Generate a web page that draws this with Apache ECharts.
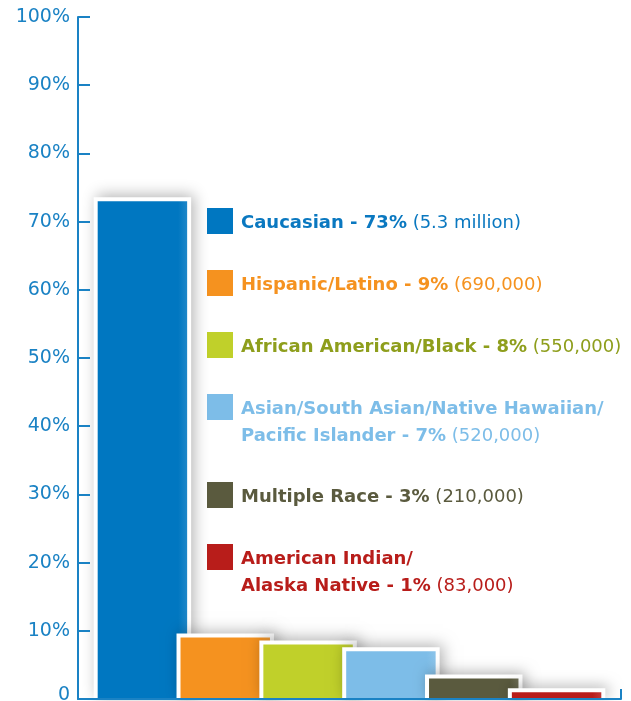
<!DOCTYPE html>
<html lang="en">
<head>
    <meta charset="UTF-8">
    <title>Race / ethnicity</title>
    <script type="text/javascript" src="https://cdn.jsdelivr.net/npm/echarts@6/dist/echarts.min.js"></script>
    <style>
        html, body { margin: 0; padding: 0; background: #fff; }
    </style>
</head>
<body>
<div id="main" style="width: 631px;height:701px"></div>
<script type="text/javascript">
    var categories = ['Caucasian', 'Hispanic/Latino', 'African American/Black',
        'Asian/South Asian/Native Hawaiian/Pacific Islander', 'Multiple Race', 'American Indian/Alaska Native'];
    var percents = [73, 9, 8, 7, 3, 1];
    var counts = ['5.3 million', '690,000', '550,000', '520,000', '210,000', '83,000'];
    // how the legend text breaks into lines
    var legendLines = [
        ['Caucasian'],
        ['Hispanic/Latino'],
        ['African American/Black'],
        ['Asian/South Asian/Native Hawaiian/', 'Pacific Islander'],
        ['Multiple Race'],
        ['American Indian/', 'Alaska Native']
    ];
    var barColors = ['#0077c1', '#f5921f', '#c0d02a', '#7dbde8', '#5a5a3e', '#b81d1a'];
    var textColors = ['#0a78c0', '#f5921f', '#8e9e1c', '#7dbde8', '#5a5a3e', '#b81d1a'];
    var axisColor = '#1a82c4';
    var font = 'DejaVu Sans';

    var chartDom = document.getElementById('main');
    var myChart = echarts.init(chartDom);

    var barData = [];
    for (var i = 0; i < percents.length; i++) {
        barData.push({ name: categories[i], value: [i, percents[i]] });
    }

    // legend built as text + squares
    var legendItems = [];
    var legendTop = 208;
    for (var j = 0; j < categories.length; j++) {
        var lines = legendLines[j];
        var txt = '';
        for (var k = 0; k < lines.length - 1; k++) {
            txt += '{n|' + lines[k] + '}\n';
        }
        txt += '{n|' + lines[lines.length - 1] + ' - }{p|' + percents[j] + '%}{c| (' + counts[j] + ')}';
        var rich = {
            n: { fontFamily: font, fontSize: 18, fontWeight: 'bold', fill: textColors[j], lineHeight: 27 },
            p: { fontFamily: font, fontSize: 18, fontWeight: 'bold', fill: textColors[j], lineHeight: 27 },
            c: { fontFamily: font, fontSize: 18, fontWeight: 'normal', fill: textColors[j], lineHeight: 27 }
        };
        legendItems.push({
            type: 'rect',
            left: 207, top: legendTop,
            shape: { width: 26, height: 26 },
            style: { fill: barColors[j] }
        });
        legendItems.push({
            type: 'text',
            left: 241, top: legendTop + 6,
            style: { text: txt, rich: rich, fill: textColors[j] }
        });
        legendTop += 62 + (lines.length - 1) * 26;
    }

    // bar with a white frame that stops at the baseline
    function renderBar(params, api) {
        var idx = params.dataIndex;
        var topPt = api.coord([api.value(0), api.value(1)]);
        var basePt = api.coord([api.value(0), 0]);
        var band = api.size([1, 0])[0];
        var w = band * 1.08;
        var b = 4;
        var h = basePt[1] - topPt[1];
        var c = barColors[idx];
        return {
            type: 'group',
            children: [
                {
                    type: 'rect',
                    shape: { x: topPt[0] - w / 2 - b, y: topPt[1] - b, width: w + 2 * b, height: h + b },
                    style: {
                        fill: '#fff',
                        shadowBlur: 14,
                        shadowOffsetX: 3,
                        shadowOffsetY: -2,
                        shadowColor: 'rgba(0,0,0,0.3)'
                    }
                },
                {
                    type: 'rect',
                    shape: { x: topPt[0] - w / 2, y: topPt[1], width: w, height: h },
                    style: {
                        fill: new echarts.graphic.LinearGradient(0, 0, 1, 0, [
                            { offset: 0, color: c },
                            { offset: 0.9, color: c },
                            { offset: 1, color: echarts.color.lift(c, 0.12) }
                        ])
                    }
                }
            ]
        };
    }

    var option = {
        animation: false,
        grid: [
            { left: 101, right: 33, top: 17, bottom: 2, outerBoundsMode: 'none' },
            { left: 78, right: 10, top: 17, bottom: 2, outerBoundsMode: 'none' }
        ],
        xAxis: [
            {
                type: 'category', gridIndex: 0, data: categories,
                axisLine: { show: false }, axisTick: { show: false }, axisLabel: { show: false }
            },
            {
                type: 'value', gridIndex: 1, min: 0, max: 1, interval: 1, z: 10,
                axisLine: { show: true, lineStyle: { color: axisColor, width: 2 } },
                axisTick: { show: true, inside: true, length: 10, lineStyle: { color: axisColor, width: 2 } },
                axisLabel: { show: false }, splitLine: { show: false }
            }
        ],
        yAxis: [
            { type: 'value', gridIndex: 0, min: 0, max: 100, interval: 10, show: false },
            {
                type: 'value', gridIndex: 1, min: 0, max: 100, interval: 10, z: 10,
                axisLine: { show: true, lineStyle: { color: axisColor, width: 2 } },
                axisTick: { show: true, inside: true, length: 12, lineStyle: { color: axisColor, width: 2 } },
                splitLine: { show: false },
                axisLabel: {
                    margin: 8,
                    color: axisColor,
                    fontFamily: font,
                    fontSize: 19,
                    formatter: function (v) { return v === 0 ? '{z|0}' : v + '%'; },
                    rich: { z: { fontFamily: font, fontSize: 19, color: axisColor, padding: [0, 0, 8, 0] } }
                }
            }
        ],
        graphic: legendItems,
        series: [
            {
                type: 'custom',
                xAxisIndex: 0, yAxisIndex: 0,
                renderItem: renderBar,
                clip: false,
                data: barData
            }
        ]
    };

    option && myChart.setOption(option);
</script>
</body>
</html>
